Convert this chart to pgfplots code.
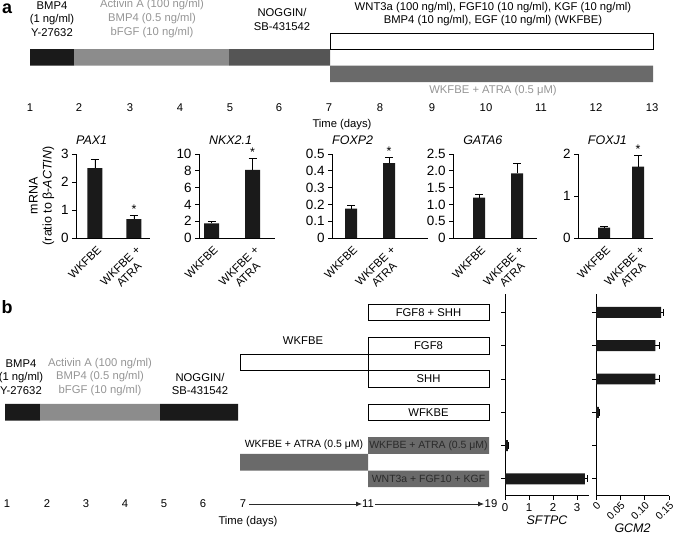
\documentclass[border=0pt]{standalone}
\usepackage{fontspec}
\setmainfont{Liberation Sans}
\usepackage{pgfplots}
\pgfplotsset{compat=1.18}
\usetikzlibrary{arrows.meta}
\definecolor{bk}{HTML}{1A1A1A}
\definecolor{lg}{HTML}{8C8C8C}
\definecolor{dg}{HTML}{555555}
\definecolor{mg}{HTML}{6A6A6A}
\definecolor{tg}{HTML}{959595}
\definecolor{gt}{HTML}{2A2A2A}
\newcommand{\fa}{\fontsize{11.3}{13.7}\selectfont}
\newcommand{\fb}{\fontsize{10.5}{12}\selectfont}
\newcommand{\ft}{\fontsize{12.5}{14}\selectfont}
\newcommand{\fy}{\fontsize{13.5}{14}\selectfont}
\newcommand{\fx}{\fontsize{11.5}{12.5}\selectfont}
\newcommand{\rect}[5]{\addplot[#1] coordinates {(#2,#3) (#4,#3) (#4,#5) (#2,#5) (#2,#3)};}
\pgfplotsset{
  common/.style={
    scale only axis, anchor=south west,
    axis x line*=bottom, axis y line*=left,
    axis line style={line width=0.7pt, black},
    tick align=outside, major tick length=4bp,
    every tick/.append style={line width=0.7pt, black},
    /pgf/number format/assume math mode=true,
    tick label style={font=\fy},
    clip=false,
  },
  achart/.style={common, ybar, ymin=0, height=84bp, xtick style={draw=none}, ytick pos=left,
    xticklabel style={font=\fx, rotate=45, anchor=north east, align=center, inner sep=1pt, yshift=-2bp},
    xticklabels={WKFBE,{WKFBE +\\ATRA}},
    title style={font=\ft\itshape, anchor=base west, inner sep=0pt, yshift=4bp},
  },
  bars/.style={fill=bk, draw=none, error bars/.cd, y dir=plus, y explicit,
    error bar style={line width=0.8pt, black},
    error mark options={rotate=90, mark size=4bp, line width=0.8pt, black}},
  bchart/.style={common, xbar, ymin=0.49, ymax=6.56, height=202bp, ytick={1,...,6}, yticklabels={},
    ytick pos=left, xtick pos=bottom, bar width=0.33,
    xticklabel style={font=\fx},
    xlabel style={font=\ft\itshape, inner sep=1pt}},
  hbars/.style={fill=bk, draw=none, error bars/.cd, x dir=plus, x explicit,
    error bar style={line width=0.8pt, black},
    error mark options={rotate=90, mark size=3.5bp, line width=0.8pt, black}},
}
\begin{document}
\begin{tikzpicture}
\useasboundingbox (0,0) rectangle (673bp,-537bp);
% ---------- schematic layer ----------
\begin{axis}[at={(0,0)}, anchor=north west, scale only axis, width=673bp, height=537bp,
  xmin=0, xmax=673, ymin=0, ymax=537, y dir=reverse, axis lines=none, clip=false]
% panel a timeline
\rect{fill=bk,draw=none}{30}{49}{74}{65.5}
\rect{fill=lg,draw=none}{74}{49}{229}{65.5}
\rect{fill=dg,draw=none}{229}{49}{330}{65.5}
\rect{fill=white,draw=black,line width=0.8pt}{330}{33}{653}{49.5}
\rect{fill=mg,draw=none}{330}{65.5}{653}{82}
\node[font=\bfseries\fontsize{18}{18}\selectfont] at (axis cs:7,9) {a};
\node[font=\fa, align=center] at (axis cs:52,19) {BMP4\\(1 ng/ml)\\Y-27632};
\node[font=\fa, align=center, text=tg] at (axis cs:152,18.5) {Activin A (100 ng/ml)\\BMP4 (0.5 ng/ml)\\bFGF (10 ng/ml)};
\node[font=\fa, align=center] at (axis cs:282,19.5) {NOGGIN/\\SB-431542};
\node[font=\fa, align=center] at (axis cs:493,14) {WNT3a (100 ng/ml), FGF10 (10 ng/ml), KGF (10 ng/ml)\\BMP4 (10 ng/ml), EGF (10 ng/ml) (WKFBE)};
\node[font=\fa, text=tg] at (axis cs:493,91) {WKFBE + ATRA (0.5 μM)};
\node[font=\fa] at (axis cs:30,108) {1};
\node[font=\fa] at (axis cs:79,108) {2};
\node[font=\fa] at (axis cs:130,108) {3};
\node[font=\fa] at (axis cs:180,108) {4};
\node[font=\fa] at (axis cs:230,108) {5};
\node[font=\fa] at (axis cs:279,108) {6};
\node[font=\fa] at (axis cs:329,108) {7};
\node[font=\fa] at (axis cs:380,108) {8};
\node[font=\fa] at (axis cs:432,108) {9};
\node[font=\fa] at (axis cs:486,108) {10};
\node[font=\fa] at (axis cs:541,108) {11};
\node[font=\fa] at (axis cs:596,108) {12};
\node[font=\fa] at (axis cs:652,108) {13};
\node[font=\fa] at (axis cs:342,125) {Time (days)};
% panel b schematic
\rect{fill=bk,draw=none}{5}{403.9}{40}{420.5}
\rect{fill=lg,draw=none}{40}{403.9}{160}{420.5}
\rect{fill=bk,draw=none}{160}{403.9}{238}{420.5}
\rect{fill=white,draw=black,line width=0.8pt}{240}{353.9}{368}{370.6}
\rect{fill=mg,draw=none}{240}{453.8}{368}{470.5}
\rect{fill=white,draw=black,line width=0.8pt}{368}{304}{489}{320.6}
\rect{fill=white,draw=black,line width=0.8pt}{368}{337.3}{489}{353.9}
\rect{fill=white,draw=black,line width=0.8pt}{368}{370.6}{489}{387.2}
\rect{fill=white,draw=black,line width=0.8pt}{368}{403.9}{489}{420.5}
\rect{fill=mg,draw=none}{368}{437.2}{489}{453.8}
\rect{fill=mg,draw=none}{368}{470.5}{489}{487.1}
\node[font=\bfseries\fontsize{18}{18}\selectfont] at (axis cs:7,307) {b};
\node[font=\fa, align=center] at (axis cs:21,377) {BMP4\\(1 ng/ml)\\Y-27632};
\node[font=\fa, align=center, text=tg] at (axis cs:100,377) {Activin A (100 ng/ml)\\BMP4 (0.5 ng/ml)\\bFGF (10 ng/ml)};
\node[font=\fa, align=center] at (axis cs:200,384) {NOGGIN/\\SB-431542};
\node[font=\fa] at (axis cs:303,341) {WKFBE};
\node[font=\fb] at (axis cs:304,445) {WKFBE + ATRA (0.5 μM)};
\node[font=\fa] at (axis cs:428.5,312.3) {FGF8 + SHH};
\node[font=\fa] at (axis cs:428.5,345.6) {FGF8};
\node[font=\fa] at (axis cs:428.5,378.9) {SHH};
\node[font=\fa] at (axis cs:428.5,412.2) {WFKBE};
\node[font=\fb, text=gt] at (axis cs:428.5,445.5) {WKFBE + ATRA (0.5 μM)};
\node[font=\fb, text=gt] at (axis cs:428.5,478.8) {WNT3a + FGF10 + KGF};
\node[font=\fa] at (axis cs:7,504) {1};
\node[font=\fa] at (axis cs:47,504) {2};
\node[font=\fa] at (axis cs:86,504) {3};
\node[font=\fa] at (axis cs:125,504) {4};
\node[font=\fa] at (axis cs:164,504) {5};
\node[font=\fa] at (axis cs:203,504) {6};
\node[font=\fa] at (axis cs:243,504) {7};
\node[font=\fa] at (axis cs:368,504) {11};
\node[font=\fa] at (axis cs:491,504) {19};
\addplot[draw=gt, line width=0.8pt, -{Latex[length=6bp,width=5bp]}] coordinates {(249,504) (362,504)};
\addplot[draw=gt, line width=0.8pt, -{Latex[length=6bp,width=5bp]}] coordinates {(375,504) (484,504)};
\node[font=\fa] at (axis cs:248,522) {Time (days)};
\end{axis}
% ---------- panel a bar charts ----------
\begin{axis}[achart, at={(76bp,-238bp)}, width=74bp, xmin=76, xmax=150, ymax=3, ytick={0,1,2,3},
  bar width=15, xtick={95,134}, title={PAX1}, title style={at={(0,1)}},
  ylabel={mRNA\\(ratio to β-\textit{ACTIN})}, ylabel style={font=\ft, align=center}]
\addplot[bars] table[x=x, y=y, y error=e] {
x y e
95 2.5 0.3
134 0.67 0.13
};
\node[font=\ft, anchor=south, inner sep=1.5pt] at (axis cs:134,0.8) {*};
\end{axis}
\begin{axis}[achart, at={(199bp,-238bp)}, width=76bp, xmin=199, xmax=275, ymax=10, ytick={0,2,4,6,8,10},
  bar width=15, xtick={211.5,252.5}, title={NKX2.1}, title style={at={(0.13,1)}}]
\addplot[bars] table[x=x, y=y, y error=e] {
x y e
211.5 1.75 0.25
252.5 8.1 1.4
};
\node[font=\ft, anchor=south, inner sep=1.5pt] at (axis cs:252.5,9.5) {*};
\end{axis}
\begin{axis}[achart, at={(332bp,-238bp)}, width=96bp, xmin=332, xmax=428, ymax=0.5,
  ytick={0,0.1,0.2,0.3,0.4,0.5}, yticklabels={0,0.1,0.2,0.3,0.4,0.5},
  bar width=12, xtick={351,389}, title={FOXP2}, title style={at={(0,1)}}]
\addplot[bars] table[x=x, y=y, y error=e] {
x y e
351 0.175 0.018
389 0.445 0.037
};
\node[font=\ft, anchor=south, inner sep=1.5pt] at (axis cs:389,0.482) {*};
\end{axis}
\begin{axis}[achart, at={(453bp,-238bp)}, width=84bp, xmin=453, xmax=537, ymax=2.5,
  ytick={0,0.5,1,1.5,2,2.5}, yticklabels={0,0.5,1.0,1.5,2.0,2.5},
  bar width=12, xtick={479,517}, title={GATA6}, title style={at={(0.12,1)}}]
\addplot[bars] table[x=x, y=y, y error=e] {
x y e
479 1.2 0.1
517 1.92 0.3
};
\end{axis}
\begin{axis}[achart, at={(578bp,-238bp)}, width=75bp, xmin=578, xmax=653, ymax=2, ytick={0,1,2},
  bar width=12, xtick={604,638}, title={FOXJ1}, title style={at={(0.13,1)}}]
\addplot[bars] table[x=x, y=y, y error=e] {
x y e
604 0.25 0.03
638 1.7 0.27
};
\node[font=\ft, anchor=south, inner sep=1.5pt] at (axis cs:638,1.97) {*};
\end{axis}
% ---------- panel b bar charts ----------
\begin{axis}[bchart, at={(505bp,-495.8bp)}, width=84bp, xmin=0, xmax=3.5, xtick={0,1,2,3}, xlabel={SFTPC}]
\addplot[hbars] table[x=x, y=y, x error=e] {
x y e
0.12 2 0.03
3.33 1 0.1
};
\end{axis}
\begin{axis}[bchart, at={(596bp,-495.8bp)}, width=73bp, xmin=0, xmax=0.15, xtick={0,0.05,0.1,0.15},
  xticklabels={0,0.05,0.10,0.15},
  xticklabel style={font=\fontsize{10.5}{11}\selectfont, rotate=45, anchor=north east, inner sep=0.5pt},
  xlabel={GCM2}, xlabel style={yshift=-1bp}]
\addplot[hbars] table[x=x, y=y, x error=e] {
x y e
0.134 6 0.004
0.122 5 0.009
0.122 4 0.009
0.006 3 0.001
};
\end{axis}
\end{tikzpicture}
\end{document}
